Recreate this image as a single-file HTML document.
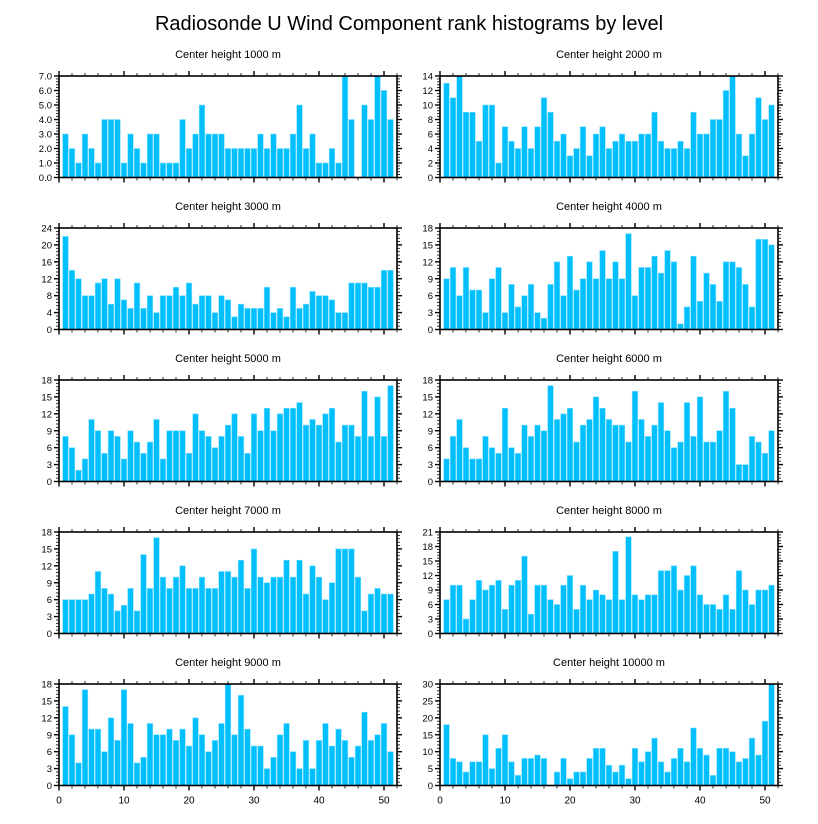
<!DOCTYPE html>
<html><head><meta charset="utf-8">
<style>
html,body{margin:0;padding:0;background:#fff;}
svg{display:block;font-family:"Liberation Sans",sans-serif;}
</style></head>
<body>
<svg id="chart" width="818" height="824" viewBox="0 0 818 824">
<text x="409" y="30" text-anchor="middle" font-size="20" fill="#000">Radiosonde U Wind Component rank histograms by level</text>
</svg>
<script>
const levels = ["1000","2000","3000","4000","5000","6000","7000","8000","9000","10000"];
const yMax = [7,14,24,18,18,18,18,21,18,30];
const yStep = [1,2,4,3,3,3,3,3,3,5];
const xTicks = [0,10,20,30,40,50];
const v1000 = [3,2,1,3,2,1,4,4,4,1,3,2,1,3,3,1,1,1,4,2,3,5,3,3,3,2,2,2,2,2,3,2,3,2,2,3,5,2,3,1,1,2,1,7,4,0,5,4,7,6,4];
const v2000 = [13,11,14,9,9,5,10,10,2,7,5,4,7,4,7,11,9,5,6,3,4,7,3,6,7,4,5,6,5,5,6,6,9,5,4,4,5,4,9,6,6,8,8,12,14,6,3,6,11,8,10];
const v3000 = [22,14,12,8,8,11,12,6,12,7,5,11,5,8,4,8,8,10,8,11,6,8,8,4,8,7,3,6,5,5,5,10,4,5,3,10,5,6,9,8,8,7,4,4,11,11,11,10,10,14,14];
const v4000 = [9,11,6,11,7,7,3,9,11,3,8,4,6,8,3,2,8,12,6,13,7,9,12,9,14,9,12,9,17,6,11,11,13,10,14,12,1,4,13,5,10,8,5,12,12,11,8,4,16,16,15];
const v5000 = [8,6,2,4,11,9,5,9,8,4,9,7,5,7,11,4,9,9,9,5,12,9,8,6,8,10,12,8,5,12,9,13,9,12,13,13,14,10,11,10,12,13,7,10,10,8,16,8,15,8,17];
const v6000 = [4,8,11,6,4,4,8,6,5,13,6,5,10,8,10,9,17,11,12,13,7,10,11,15,13,11,10,10,7,16,11,8,10,14,9,6,7,14,8,15,7,7,9,16,13,3,3,8,7,5,9];
const v7000 = [6,6,6,6,7,11,8,7,4,5,8,4,14,8,17,10,8,10,12,8,8,10,8,8,11,11,10,13,8,15,10,9,10,10,13,10,13,7,12,10,6,9,15,15,15,10,4,7,8,7,7];
const v8000 = [7,10,10,3,7,11,9,10,11,5,10,11,16,4,10,10,7,6,10,12,5,10,7,9,8,7,17,7,20,8,7,8,8,13,13,14,9,12,14,8,6,6,5,8,5,13,9,6,9,9,10];
const v9000 = [14,9,4,17,10,10,6,12,8,17,11,4,5,11,9,9,10,8,10,7,12,9,6,8,11,18,9,16,10,7,7,3,5,9,11,6,3,8,3,8,11,7,10,8,5,7,13,8,9,11,6];
const v10000 = [18,8,7,4,7,7,15,5,11,15,7,3,8,8,9,8,0,4,8,2,4,4,8,11,11,6,4,6,2,11,7,10,14,7,4,8,11,7,17,11,9,3,11,11,10,7,8,14,9,19,30];
const series = [v1000,v2000,v3000,v4000,v5000,v6000,v7000,v8000,v9000,v10000];

const NS = "http://www.w3.org/2000/svg";
const svg = document.getElementById("chart");
function mk(tag, attrs, parent){
  const e = document.createElementNS(NS, tag);
  for (const k in attrs) e.setAttribute(k, attrs[k]);
  parent.appendChild(e);
  return e;
}
const XMAX = 52;
for (let p = 0; p < 10; p++) {
  const col = p % 2, row = Math.floor(p / 2);
  const L = col === 0 ? 59 : 440, R = col === 0 ? 397 : 778;
  const T = 76 + row * 152, B = T + 101.5;
  const g = mk("g", {}, svg);
  
  
  const xs = v => L + (R - L) * v / XMAX;
  const ys = v => B - (B - T) * v / yMax[p];
  const t = mk("text", {x: (L + R) / 2, y: T - 18, "text-anchor": "middle", "font-size": "11"}, g);
  t.textContent = "Center height " + levels[p] + " m";
  
  
  const vals = series[p];
  for (let i = 0; i < vals.length; i++) {
    const x = i + 1, w = 0.86;
    const y0 = ys(vals[i]);
    const r = mk("rect", {x: xs(x - w / 2), y: y0, width: xs(w) - xs(0), height: B - y0, fill: "#00BFFF", stroke: "#7fdfff", "stroke-width": "0.6"}, g);
    
    
  }
  const fr = mk("rect", {x: L, y: T, width: R - L, height: B - T, fill: "none", stroke: "#000", "stroke-width": "1.6"}, g);
  
  
  // x ticks
  for (let v = 0; v <= XMAX; v += 2) {
    const major = v % 10 === 0;
    const len = major ? 5 : 3;
    const x = xs(v);
    mk("line", {x1: x, x2: x, y1: B, y2: B + len, stroke: "#000", "stroke-width": major ? 1.4 : 0.8}, g);
    mk("line", {x1: x, x2: x, y1: T, y2: T - len, stroke: "#000", "stroke-width": major ? 1.4 : 0.8}, g);
  }
  if (row === 4) {
    for (const v of xTicks) {
      const tl = mk("text", {x: xs(v), y: B + 18, "text-anchor": "middle", "font-size": "10"}, g);
      tl.textContent = v;
      
      
    }
  }
  // y ticks
  const st = yStep[p];
  for (let k = 0; k <= yMax[p] / st * 5; k++) {
    const v = k * st / 5;
    const major = k % 5 === 0;
    const len = major ? 5 : 3;
    const y = ys(v);
    mk("line", {x1: L, x2: L - len, y1: y, y2: y, stroke: "#000", "stroke-width": major ? 1.4 : 0.8}, g);
    mk("line", {x1: R, x2: R + len, y1: y, y2: y, stroke: "#000", "stroke-width": major ? 1.4 : 0.8}, g);
    if (major) {
      const yl = mk("text", {x: L - 7, y: y + 3.5, "text-anchor": "end", "font-size": "9.5"}, g);
      yl.textContent = p === 0 ? v.toFixed(1) : String(v);
      
      
    }
  }
}
</script>
</body></html>
